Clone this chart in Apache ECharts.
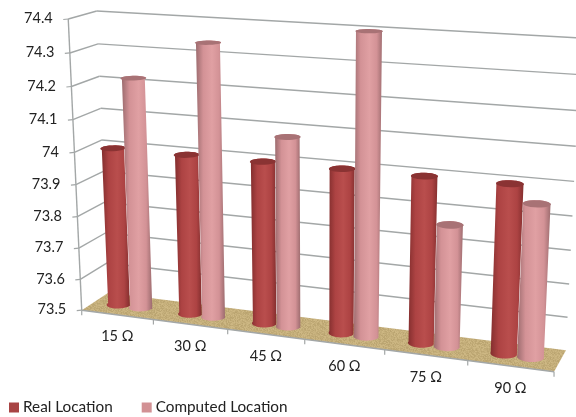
<!DOCTYPE html>
<html>
<head>
<meta charset="utf-8">
<style>
html, body { margin: 0; padding: 0; background: #fff; }
#chart { width: 576px; height: 417px; }
</style>
<script src="https://cdn.jsdelivr.net/npm/echarts@6/dist/echarts.min.js"></script>
</head>
<body>
<div id="chart"></div>
<script>
const categories = ['15 Ω', '30 Ω', '45 Ω', '60 Ω', '75 Ω', '90 Ω'];
const realLocation = [74.0, 74.0, 74.0, 74.0, 74.0, 74.0];
const computedLocation = [74.22, 74.34, 74.08, 74.4, 73.865, 73.95];
const yTicks = [73.5, 73.6, 73.7, 73.8, 73.9, 74, 74.1, 74.2, 74.3, 74.4];

const yMin = 73.5;
const yMax = 74.4;

// box corners on screen: [x along categories, height, depth] -> [px, py]
const calib = [
    [[0, 0, 0], [82, 310]],
    [[1, 0, 0], [554, 372]],
    [[0, 0, 1], [108, 293]],
    [[1, 0, 1], [566, 350]],
    [[0, 1, 0], [68, 19]],
    [[0, 1, 1], [97, 11]],
    [[1, 1, 1], [581, 38]]
];

// least squares for the 3x4 camera matrix, last entry fixed to 1
function solveCamera(points) {
    const rows = [];
    const rhs = [];
    points.forEach(p => {
        const [x, y, z] = p[0];
        const [u, v] = p[1];
        rows.push([x, y, z, 1, 0, 0, 0, 0, -u * x, -u * y, -u * z]);
        rhs.push(u);
        rows.push([0, 0, 0, 0, x, y, z, 1, -v * x, -v * y, -v * z]);
        rhs.push(v);
    });
    const n = 11;
    const a = [];
    for (let i = 0; i < n; i++) {
        a.push(new Array(n + 1).fill(0));
        rows.forEach((r, k) => {
            for (let j = 0; j < n; j++) a[i][j] += r[i] * r[j];
            a[i][n] += r[i] * rhs[k];
        });
    }
    for (let c = 0; c < n; c++) {
        let best = c;
        for (let r = c + 1; r < n; r++) {
            if (Math.abs(a[r][c]) > Math.abs(a[best][c])) best = r;
        }
        [a[c], a[best]] = [a[best], a[c]];
        for (let r = 0; r < n; r++) {
            if (r === c) continue;
            const f = a[r][c] / a[c][c];
            for (let j = c; j <= n; j++) a[r][j] -= f * a[c][j];
        }
    }
    return a.map((r, i) => r[n] / r[i]);
}

const cam = solveCamera(calib);

function project(x, y, z) {
    const w = cam[8] * x + cam[9] * y + cam[10] * z + 1;
    return [
        (cam[0] * x + cam[1] * y + cam[2] * z + cam[3]) / w,
        (cam[4] * x + cam[5] * y + cam[6] * z + cam[7]) / w
    ];
}

// flat grid pixel -> box coordinates, so values still go through the axes
function toBox(params, api, catIndex, value) {
    const pt = api.coord([catIndex, value]);
    const rect = params.coordSys;
    return {
        x: (pt[0] - rect.x) / rect.width,
        y: (rect.y + rect.height - pt[1]) / rect.height,
        band: api.size([1, 0])[0] / rect.width
    };
}

// speckled tile for the floor
function floorTexture() {
    const canvas = document.createElement('canvas');
    canvas.width = 48;
    canvas.height = 48;
    const ctx = canvas.getContext('2d');
    for (let i = 0; i < 48; i++) {
        for (let j = 0; j < 48; j++) {
            const h = Math.sin(i * 12.9898 + j * 78.233) * 43758.5453;
            const d = Math.round((h - Math.floor(h) - 0.5) * 22);
            ctx.fillStyle = `rgb(${196 + d},${174 + d},${122 + d})`;
            ctx.fillRect(i, j, 1, 1);
        }
    }
    return canvas;
}

const floorImage = floorTexture();

function line(a, b, stroke, width) {
    return {
        type: 'line',
        shape: { x1: a[0], y1: a[1], x2: b[0], y2: b[1] },
        style: { stroke: stroke, lineWidth: width }
    };
}

function renderBox(params, api) {
    const gridColor = '#a3a7a7';
    const children = [];
    children.push({
        type: 'polygon',
        shape: { points: [project(0, 0, 0), project(1, 0, 0), project(1, 0, 1), project(0, 0, 1)] },
        style: { fill: { image: floorImage, repeat: 'repeat' } }
    });
    yTicks.forEach(t => {
        const h = toBox(params, api, 0, t).y;
        const front = project(0, h, 0);
        const back = project(0, h, 1);
        if (t !== yMin) {
            children.push(line(back, project(1, h, 1), gridColor, 1.4));
            children.push(line(front, back, gridColor, 1.4));
        }
        children.push(line([front[0] - 5, front[1] + 0.5], front, gridColor, 1.2));
    });
    children.push(line(project(0, 0, 0), project(0, 1, 0), gridColor, 1.4));
    children.push(line(project(0, 0, 0), project(1, 0, 0), gridColor, 1.6));
    for (let i = 0; i <= categories.length; i++) {
        const p = project(i / categories.length, 0, 0);
        children.push(line(p, [p[0], p[1] + 5], gridColor, 1.2));
    }
    return { type: 'group', children: children };
}

function renderLabels(params, api) {
    const children = [];
    yTicks.forEach(t => {
        const p = project(0, toBox(params, api, 0, t).y, 0);
        children.push({
            type: 'text',
            style: {
                x: p[0] - 15.5,
                y: p[1] - 0.5,
                text: String(t),
                align: 'right',
                verticalAlign: 'middle',
                fill: '#222',
                font: '14.5px Lato'
            }
        });
    });
    categories.forEach((c, i) => {
        const p = project((i + 0.5) / categories.length, 0, 0);
        children.push({
            type: 'text',
            style: {
                x: p[0],
                y: p[1] + 22,
                text: c,
                align: 'center',
                verticalAlign: 'middle',
                fill: '#222',
                font: '14.5px Lato'
            }
        });
    });
    return { type: 'group', children: children };
}

function cylinderGradient(edge, mid, light) {
    return new echarts.graphic.LinearGradient(0, 0, 1, 0, [
        { offset: 0, color: edge },
        { offset: 0.25, color: mid },
        { offset: 0.55, color: light },
        { offset: 0.8, color: mid },
        { offset: 1, color: edge }
    ]);
}

function ring(cx, h, rx, rz, from, to) {
    const pts = [];
    for (let k = 0; k <= 24; k++) {
        const t = from + (to - from) * k / 24;
        pts.push(project(cx + rx * Math.cos(t), h, 0.5 + rz * Math.sin(t)));
    }
    return pts;
}

function cylinderRender(offset, colors) {
    return function (params, api) {
        const catIndex = api.value(0);
        const top = toBox(params, api, catIndex, api.value(1));
        const cx = top.x + offset * top.band;
        const rx = 0.155 * top.band;
        const rz = 0.22;
        const bottomArc = ring(cx, 0, rx, rz, Math.PI, 2 * Math.PI);
        const topBack = ring(cx, top.y, rx, rz, 0, Math.PI);
        const topFull = ring(cx, top.y, rx, rz, 0, 2 * Math.PI);
        return {
            type: 'group',
            children: [
                {
                    type: 'polygon',
                    shape: { points: bottomArc.concat(topBack) },
                    style: { fill: cylinderGradient(colors[0], colors[1], colors[2]) }
                },
                {
                    type: 'polygon',
                    shape: { points: topFull },
                    style: { fill: colors[3] }
                }
            ]
        };
    };
}

function rowsOf(values) {
    return values.map((v, i) => [i, v]);
}

const chart = echarts.init(document.getElementById('chart'));

chart.setOption({
    animation: false,
    backgroundColor: '#fff',
    legend: {
        data: ['Real Location', 'Computed Location'],
        left: 9,
        top: 400,
        itemWidth: 10,
        itemHeight: 10,
        itemGap: 29,
        padding: 0,
        icon: 'rect',
        textStyle: {
            fontFamily: 'Lato',
            fontSize: 15.3,
            color: '#222',
            padding: [0, 0, 0, -1]
        }
    },
    grid: { left: 0, right: 0, top: 0, bottom: 0 },
    xAxis: { type: 'category', data: categories, show: false },
    yAxis: { type: 'value', min: yMin, max: yMax, interval: 0.1, show: false },
    series: [
        {
            type: 'custom',
            name: 'box',
            data: [[0, yMin]],
            silent: true,
            z: 1,
            renderItem: renderBox
        },
        {
            type: 'custom',
            name: 'Real Location',
            data: rowsOf(realLocation),
            itemStyle: { color: '#a84444' },
            z: 2,
            clip: false,
            renderItem: cylinderRender(-0.16, ['#832e2e', '#ad4343', '#b94e4d', '#8a3333'])
        },
        {
            type: 'custom',
            name: 'Computed Location',
            data: rowsOf(computedLocation),
            itemStyle: { color: '#d29194' },
            z: 3,
            clip: false,
            renderItem: cylinderRender(0.155, ['#9c6b6e', '#d39296', '#e0a0a3', '#a87275'])
        },
        {
            type: 'custom',
            name: 'labels',
            data: [[0, yMin]],
            silent: true,
            z: 4,
            renderItem: renderLabels
        }
    ]
});
</script>
</body>
</html>
